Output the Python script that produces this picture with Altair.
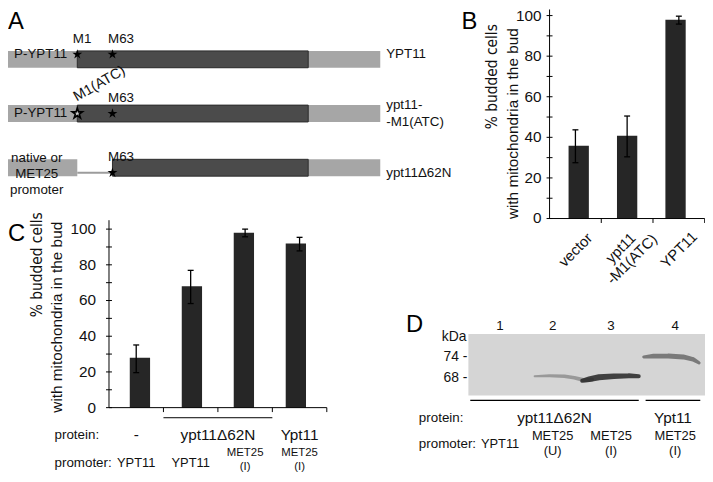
import altair as alt
import pandas as pd

FONT = "Liberation Sans"
NARROW = "Liberation Sans Narrow, DejaVu Sans Condensed, Liberation Sans"
M = 8  # page margin


def px(v):
    return v - M


def lin(domain, lo, hi):
    return alt.Scale(domain=domain, range=[px(lo), px(hi)], nice=False, zero=False)


one = pd.DataFrame({"k": [0]})


def label(s, x, y, size=13.5, align="center", baseline="middle", angle=0, lh=None, color="#111", font=FONT):
    kw = dict(text=s, fontSize=size, align=align, baseline=baseline, font=font, color=color)
    if angle:
        kw["angle"] = angle
    if lh:
        kw["lineHeight"] = lh
    return alt.Chart(one).mark_text(**kw).encode(x=alt.value(px(x)), y=alt.value(px(y)))


STAR = ("M0,-1L0.2245,-0.309L0.951,-0.309L0.363,0.118L0.588,0.809L0,0.382"
        "L-0.588,0.809L-0.363,0.118L-0.951,-0.309L-0.2245,-0.309Z")

# ---------------- Panel A: constructs (construct coordinates) ----------------
a_names = ["YPT11", "ypt11-\n-M1(ATC)", "ypt11Δ62N"]
a_rows = [0, 1, 2]
light_row = [0, 1, 2, 2]
light_start = [-122, -122, -122, 408]
light_end = [535, 535, 1, 535]
dark_row = [0, 1, 2]
dark_start = [1, 1, 63]
dark_end = [408, 408, 408]
link_row = [2]
link_start = [1]
link_end = [63]
star_row = [0, 0, 1, 1, 2]
star_pos = [1, 63, 1, 63, 63]
star_kind = ["full", "full", "open", "full", "full"]
site_text = ["M1", "M63", "M1(ATC)", "M63", "M63"]
prom_rows = [0, 1]
prom_text = ["P-YPT11", "P-YPT11"]

# ---------------- Panel B ----------------
b_cats = ["vector", "ypt11\n-M1(ATC)", "YPT11"]
b_vals = [35.9, 40.8, 97.9]
b_lo = [27.5, 30.4, 95.8]
b_hi = [43.7, 50.5, 99.7]

# ---------------- Panel C ----------------
c_vals = [27.9, 68.0, 98.0, 91.9]
c_lo = [19.6, 58.3, 95.7, 87.8]
c_hi = [35.1, 76.9, 100.0, 95.4]
c_protein = ["-", "ypt11Δ62N", "Ypt11"]
c_protein_pos = [0, 1.5, 3]
c_promoter = ["YPT11", "YPT11", "MET25\n(I)", "MET25\n(I)"]

y_ticks = list(range(0, 101, 10))
y_labels = list(range(0, 101, 20))

# ---------------- Panel D: blot (x: % of blot width, y: kDa) ----------------
d_lanes = ["1", "2", "3", "4"]
d_lane_pos = [13.4, 35.6, 60.3, 87.4]
d_markers = [74, 68]
d_marker_text = ["74 -", "68 -"]
d_group_start = [0.8, 74.9]
d_group_end = [72.0, 98.0]
d_group_text = ["ypt11Δ62N", "Ypt11"]
d_promoter = ["YPT11", "MET25\n(U)", "MET25\n(I)", "MET25\n(I)"]
band_faint_x = [28.0, 34.3, 40.6, 44.8, 49.0, 52.3]
band_faint_kda = [68.43, 68.57, 68.43, 68.0, 67.29, 67.43]
band_faint_w = [2, 3, 3.5, 3.5, 4, 4]
band_dark_x = [48.1, 51.0, 55.2, 61.5, 67.8, 72.0]
band_dark_kda = [67.14, 67.57, 68.14, 68.43, 68.57, 68.43]
band_dark_w = [4, 5.5, 6, 5.5, 5, 4]
band4_x = [74.1, 78.2, 84.5, 90.8, 95.0, 97.5]
band4_kda = [74.0, 74.29, 74.29, 74.0, 73.29, 72.29]
band4_w = [3, 4.5, 5, 5, 4.5, 3]

layers = []

# ===== Panel A =====
xA = lin([-122, 535], 7.5, 384)
yA = lin([0, 2], 52.5, 172)
xA_lab = lin([-122, 535], 3.0, 379.5)
yA_lab = lin([0, 2], 37.0, 156.5)
yA_two = lin([0, 2], 44.0, 163.5)
xA_rot = lin([-122, 535], 5.0, 381.5)

light = pd.DataFrame({"r": light_row, "s": light_start, "e": light_end})
dark = pd.DataFrame({"r": dark_row, "s": dark_start, "e": dark_end})
link = pd.DataFrame({"r": link_row, "s": link_start, "e": link_end})
stars = pd.DataFrame({"r": star_row, "p": star_pos, "k": star_kind, "t": site_text})
names = pd.DataFrame({"r": a_rows, "t": a_names})

layers.append(alt.Chart(light).mark_bar(size=17, color="#a6a6a6").encode(
    x=alt.X("s:Q", scale=xA, axis=None), x2="e:Q", y=alt.Y("r:Q", scale=yA, axis=None)))
layers.append(alt.Chart(link).mark_rule(color="#9c9c9c", strokeWidth=2).encode(
    x=alt.X("s:Q", scale=xA, axis=None), x2="e:Q", y=alt.Y("r:Q", scale=yA, axis=None)))
layers.append(alt.Chart(dark).mark_bar(size=17, color="#4b4b4b", stroke="#2c2c2c", strokeWidth=1).encode(
    x=alt.X("s:Q", scale=xA, axis=None), x2="e:Q", y=alt.Y("r:Q", scale=yA, axis=None)))
layers.append(alt.Chart(stars[stars.k == "full"]).mark_point(
    shape=STAR, size=110, filled=True, color="#000", opacity=1).encode(
    x=alt.X("p:Q", scale=xA, axis=None), y=alt.Y("r:Q", scale=yA, axis=None)))
layers.append(alt.Chart(stars[stars.k == "open"]).mark_point(
    shape=STAR, size=120, filled=True, fill="#cfcfcf", stroke="#000", strokeWidth=1.6, opacity=1).encode(
    x=alt.X("p:Q", scale=xA, axis=None), y=alt.Y("r:Q", scale=yA, axis=None)))
layers.append(alt.Chart(stars[stars.t != "M1(ATC)"]).mark_text(
    font=FONT, fontSize=13.5, align="left", baseline="middle", color="#111").encode(
    x=alt.X("p:Q", scale=xA_lab, axis=None), y=alt.Y("r:Q", scale=yA_lab, axis=None), text="t:N"))
layers.append(alt.Chart(stars[stars.t == "M1(ATC)"]).mark_text(
    font=FONT, fontSize=14.5, align="left", baseline="middle", angle=330, color="#111").encode(
    x=alt.X("p:Q", scale=xA_rot, axis=None), y=alt.Y("r:Q", scale=yA_lab, axis=None), text="t:N"))
layers.append(alt.Chart(pd.DataFrame({"r": prom_rows, "t": prom_text})).mark_text(
    font=FONT, fontSize=13.5, align="center", baseline="middle", color="#111").encode(
    x=alt.value(px(41)), y=alt.Y("r:Q", scale=yA, axis=None), text="t:N"))
layers.append(alt.Chart(names[~names.t.str.contains("\n")]).mark_text(
    font=FONT, fontSize=13.5, align="left", baseline="middle", color="#111").encode(
    x=alt.value(px(390)), y=alt.Y("r:Q", scale=yA, axis=None), text="t:N"))
layers.append(alt.Chart(names[names.t.str.contains("\n")]).mark_text(
    font=FONT, fontSize=13.5, align="left", baseline="middle", lineBreak="\n", lineHeight=17, color="#111").encode(
    x=alt.value(px(390)), y=alt.Y("r:Q", scale=yA_two, axis=None), text="t:N"))
layers.append(label(["native or", "MET25", "promoter"], 37, 157, lh=16.5))
layers.append(label("A", 8, 27, size=24, align="left", baseline="alphabetic", color="#000"))


# ===== Bar chart helper =====
def bar_panel(vals, lo, hi, xs, ys, ax_x, y_top, tick_y0, lab_x):
    n = len(vals)
    df = pd.DataFrame({"i": list(range(n)), "v": vals, "lo": lo, "hi": hi, "base": [0] * n})
    out = []
    out.append(alt.Chart(df).mark_bar(size=20.5, color="#262626").encode(
        x=alt.X("i:Q", scale=xs, axis=None), y=alt.Y("v:Q", scale=ys, axis=None), y2="base:Q"))
    out.append(alt.Chart(df).mark_rule(color="#000", strokeWidth=1.3).encode(
        x=alt.X("i:Q", scale=xs, axis=None), y=alt.Y("lo:Q", scale=ys, axis=None), y2="hi:Q"))
    for f in ["lo", "hi"]:
        out.append(alt.Chart(df).mark_tick(orient="horizontal", size=6, thickness=1.3, color="#000", opacity=1).encode(
            x=alt.X("i:Q", scale=xs, axis=None), y=alt.Y(f"{f}:Q", scale=ys, axis=None)))
    # y axis line
    out.append(alt.Chart(pd.DataFrame({"a": [0], "b": [y_top]})).mark_rule(color="#000", strokeWidth=1).encode(
        x=alt.value(px(ax_x)), y=alt.Y("a:Q", scale=ys, axis=None), y2="b:Q"))
    # y ticks
    out.append(alt.Chart(pd.DataFrame({"t": y_ticks})).mark_rule(color="#000", strokeWidth=1).encode(
        x=alt.value(px(ax_x - 3)), x2=alt.value(px(ax_x + 3)), y=alt.Y("t:Q", scale=ys, axis=None)))
    out.append(alt.Chart(pd.DataFrame({"t": y_labels})).mark_text(
        font=FONT, fontSize=15.5, align="right", baseline="middle", color="#111").encode(
        x=alt.value(px(lab_x)), y=alt.Y("t:Q", scale=ys, axis=None), text="t:Q"))
    # x axis line and ticks (between categories)
    out.append(alt.Chart(pd.DataFrame({"a": [-0.5], "b": [n - 0.5]})).mark_rule(color="#000", strokeWidth=1).encode(
        x=alt.X("a:Q", scale=xs, axis=None), x2="b:Q", y=alt.value(px(tick_y0))))
    out.append(alt.Chart(pd.DataFrame({"t": [k + 0.5 for k in range(n)]})).mark_rule(color="#000", strokeWidth=1).encode(
        x=alt.X("t:Q", scale=xs, axis=None), y=alt.value(px(tick_y0)), y2=alt.value(px(tick_y0 + 4.5))))
    return out


# ===== Panel B =====
xB = lin([-0.5, 2.5], 555, 711.7)
yB = lin([0, 105], 218.3, 218.3 - 105 * 2.05)
layers += bar_panel(b_vals, b_lo, b_hi, xB, yB, 555, 103, 218.3, 547)
bcat = pd.DataFrame({"i": [0, 1, 2], "t": b_cats})
layers.append(alt.Chart(bcat[~bcat.t.str.contains("\n")]).mark_text(
    font=FONT, fontSize=15, align="center", baseline="middle", angle=315, color="#111").encode(
    x=alt.X("i:Q", scale=xB, axis=None), y=alt.value(px(250)), text="t:N"))
xB_two = lin([-0.5, 2.5], 548.5, 705.2)
layers.append(alt.Chart(bcat[bcat.t.str.contains("\n")]).mark_text(
    font=FONT, fontSize=15, align="center", baseline="middle", angle=315, lineBreak="\n", lineHeight=16,
    color="#111").encode(
    x=alt.X("i:Q", scale=xB_two, axis=None), y=alt.value(px(248)), text="t:N"))
layers.append(label("% budded cells", 496.5, 75, size=15.5, angle=270, font=NARROW))
layers.append(label("with mitochondria in the bud", 518.5, 122.5, size=15.5, angle=270))
layers.append(label("B", 466, 27, size=24, align="left", baseline="alphabetic", color="#000"))

# ===== Panel C =====
xC = lin([-0.5, 3.5], 110, 330)
yC = lin([0, 105], 409.3, 409.3 - 105 * 1.803)
layers += bar_panel(c_vals, c_lo, c_hi, xC, yC, 110, 105, 409.3, 97)
layers.append(alt.Chart(pd.DataFrame({"a": [0.5], "b": [2.5]})).mark_rule(color="#000", strokeWidth=1).encode(
    x=alt.X("a:Q", scale=xC, axis=None), x2="b:Q", y=alt.value(px(419.5))))
layers.append(alt.Chart(pd.DataFrame({"i": c_protein_pos, "t": c_protein})).mark_text(
    font=FONT, fontSize=15.5, align="center", baseline="middle", color="#111").encode(
    x=alt.X("i:Q", scale=xC, axis=None), y=alt.value(px(437)), text="t:N"))
cprom = pd.DataFrame({"i": [0, 1, 2, 3], "t": c_promoter})
layers.append(alt.Chart(cprom[~cprom.t.str.contains("\n")]).mark_text(
    font=FONT, fontSize=13, align="center", baseline="middle", color="#111").encode(
    x=alt.X("i:Q", scale=xC, axis=None), y=alt.value(px(465)), text="t:N"))
layers.append(alt.Chart(cprom[cprom.t.str.contains("\n")]).mark_text(
    font=FONT, fontSize=11.5, align="center", baseline="middle", lineBreak="\n", lineHeight=14.5,
    color="#111").encode(
    x=alt.X("i:Q", scale=xC, axis=None), y=alt.value(px(455)), text="t:N"))
layers.append(label("protein:", 55, 437, size=13.5, align="left"))
layers.append(label("promoter:", 55, 465, size=13.5, align="left"))
layers.append(label("% budded cells", 37.5, 265, size=15.5, angle=270, font=NARROW))
layers.append(label("with mitochondria in the bud", 58, 318, size=15.5, angle=270))
layers.append(label("C", 8, 241, size=24, align="left", baseline="alphabetic", color="#000"))

# ===== Panel D =====
xD = lin([0, 100], 473, 712)
yD = lin([62.9, 80.6], 397, 335)
layers.append(alt.Chart(pd.DataFrame({"a": [0], "b": [100], "c": [62.9], "d": [80.6]})).mark_rect(
    color="#d5d5d5").encode(
    x=alt.X("a:Q", scale=xD, axis=None), x2="b:Q", y=alt.Y("c:Q", scale=yD, axis=None), y2="d:Q"))
for bx, bk, bw, col in [(band_faint_x, band_faint_kda, band_faint_w, "#8e8e8e"),
                        (band_dark_x, band_dark_kda, band_dark_w, "#262626"),
                        (band4_x, band4_kda, band4_w, "#6a6a6a")]:
    layers.append(alt.Chart(pd.DataFrame({"x": bx, "k": bk, "w": bw})).mark_trail(color=col, opacity=0.85).encode(
        x=alt.X("x:Q", scale=xD, axis=None), y=alt.Y("k:Q", scale=yD, axis=None),
        size=alt.Size("w:Q", scale=None, legend=None), order="x:Q"))
layers.append(alt.Chart(pd.DataFrame({"x": d_lane_pos, "t": d_lanes})).mark_text(
    font=FONT, fontSize=13.5, align="center", baseline="middle", color="#111").encode(
    x=alt.X("x:Q", scale=xD, axis=None), y=alt.value(px(327)), text="t:N"))
layers.append(alt.Chart(pd.DataFrame({"k": d_markers, "t": d_marker_text})).mark_text(
    font=FONT, fontSize=14, align="right", baseline="middle", color="#111").encode(
    x=alt.value(px(472)), y=alt.Y("k:Q", scale=yD, axis=None), text="t:N"))
layers.append(label("kDa", 471, 338, size=14, align="right"))
dgrp = pd.DataFrame({"a": d_group_start, "b": d_group_end, "t": d_group_text,
                     "m": [(s + e) / 2 for s, e in zip(d_group_start, d_group_end)]})
layers.append(alt.Chart(dgrp).mark_rule(color="#000", strokeWidth=1.3).encode(
    x=alt.X("a:Q", scale=xD, axis=None), x2="b:Q", y=alt.value(px(402))))
layers.append(alt.Chart(dgrp).mark_text(
    font=FONT, fontSize=15.5, align="center", baseline="middle", color="#111").encode(
    x=alt.X("m:Q", scale=xD, axis=None), y=alt.value(px(420)), text="t:N"))
dprom = pd.DataFrame({"x": d_lane_pos, "t": d_promoter})
layers.append(alt.Chart(dprom[~dprom.t.str.contains("\n")]).mark_text(
    font=FONT, fontSize=13, align="center", baseline="middle", color="#111").encode(
    x=alt.X("x:Q", scale=xD, axis=None), y=alt.value(px(446)), text="t:N"))
layers.append(alt.Chart(dprom[dprom.t.str.contains("\n")]).mark_text(
    font=FONT, fontSize=13, align="center", baseline="middle", lineBreak="\n", lineHeight=15,
    color="#111").encode(
    x=alt.X("x:Q", scale=xD, axis=None), y=alt.value(px(438.5)), text="t:N"))
layers.append(label("protein:", 423, 420, size=13.5, align="left"))
layers.append(label("promoter:", 423, 446, size=13.5, align="left"))
layers.append(label("D", 410, 333, size=24, align="left", baseline="alphabetic", color="#000"))

chart = alt.layer(*layers).resolve_scale(
    x="independent", y="independent", size="independent"
).properties(
    width=704, height=466, autosize=alt.AutoSizeParams(type="none"), padding=0
).configure_view(stroke=None)

chart.save("out.html", embed_options={"renderer": "svg", "actions": False})
